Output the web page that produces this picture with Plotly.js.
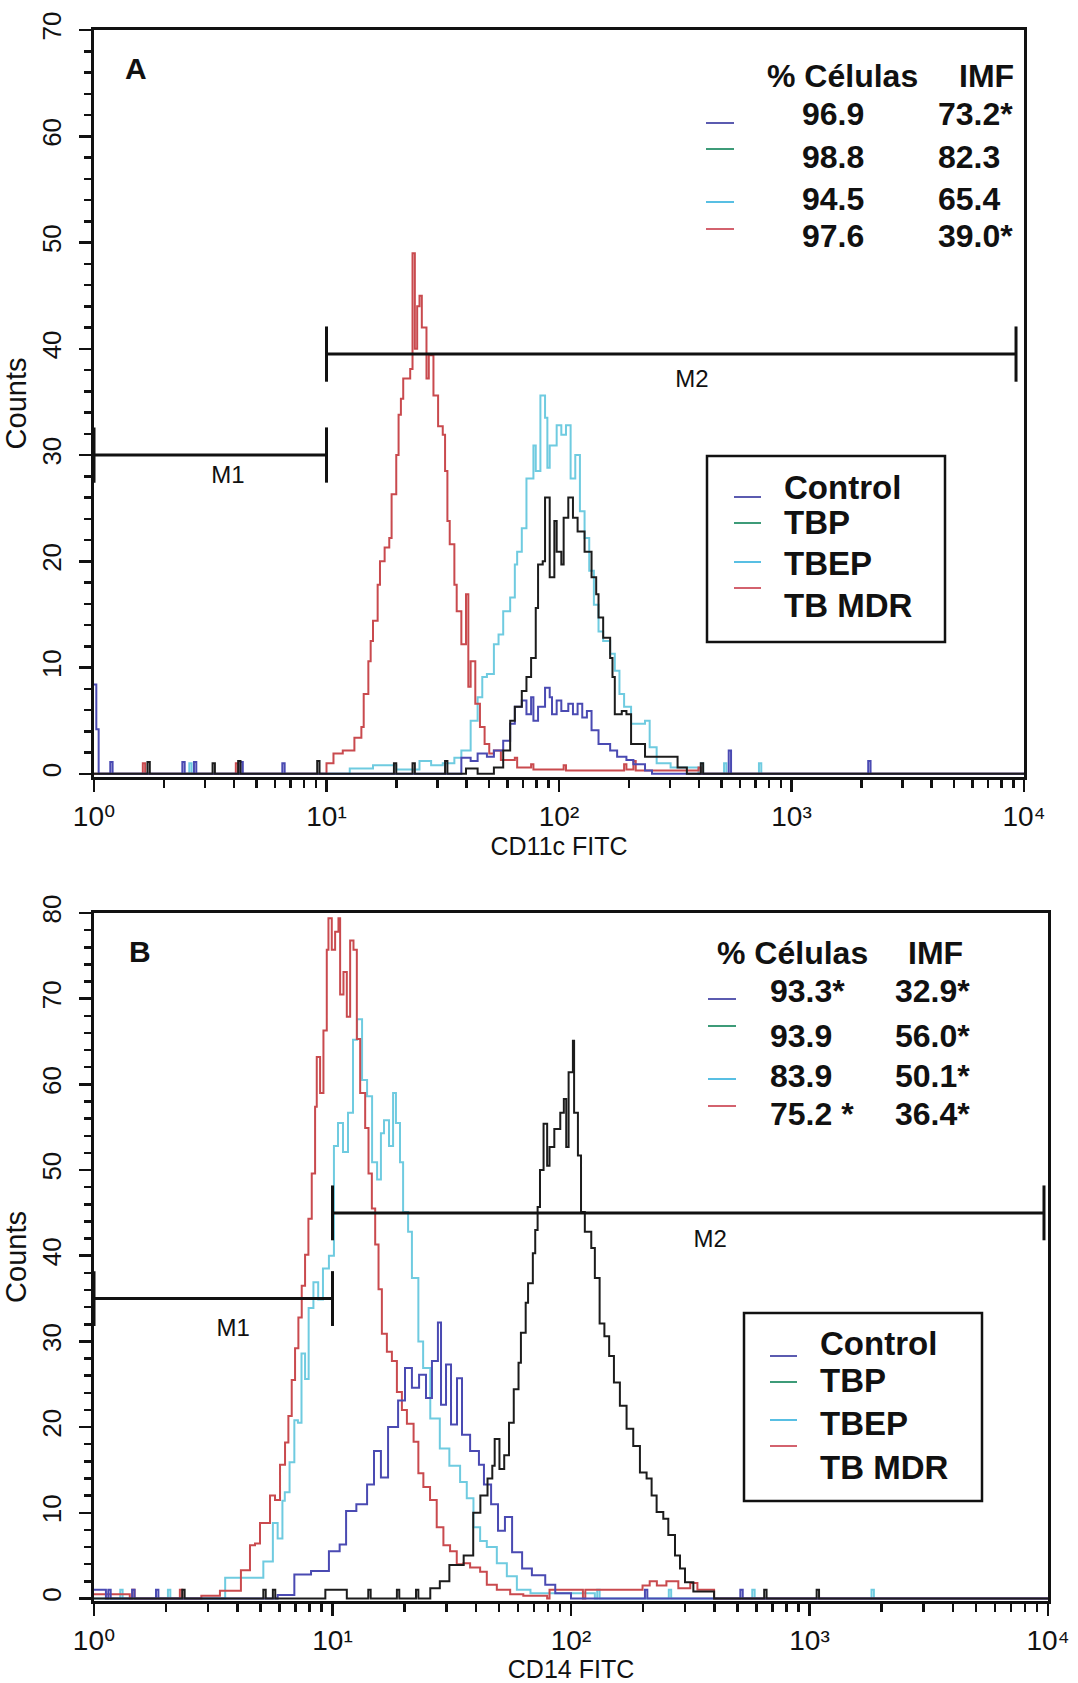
<!DOCTYPE html>
<html>
<head>
<meta charset="utf-8">
<script src="https://cdn.plot.ly/plotly-3.0.1.min.js"></script>
<style>
  html, body { margin: 0; padding: 0; background: #ffffff; }
  #chart { width: 1078px; height: 1683px; }
</style>
</head>
<body>
<div id="chart"></div>
<script>
// ---------------- DATA ----------------
const groups = ['Control', 'TBP', 'TBEP', 'TB MDR'];

// Panel A (CD11c FITC): x as log10(fluorescence), y as counts
const A_control_log = [0.00, 0.01, 0.02, 0.06, 0.07, 0.08, 0.37, 0.38, 0.39, 0.42,
  0.43, 0.44, 0.62, 0.63, 0.64, 0.80, 0.81, 0.82, 1.55, 1.58,
  1.62, 1.65, 1.69, 1.72, 1.76, 1.79, 1.81, 1.84, 1.86, 1.88,
  1.89, 1.91, 1.94, 1.96, 1.97, 1.99, 2.01, 2.04, 2.06, 2.08,
  2.10, 2.12, 2.14, 2.17, 2.19, 2.22, 2.25, 2.29, 2.32, 2.37,
  2.40, 2.72, 2.73, 2.74, 3.32, 3.33, 3.34, 4.00];
const A_control_cnt = [8.4, 4.2, 0, 0, 1.1, 0, 0, 1.1, 0, 0,
  1.1, 0, 0, 1.1, 0, 0, 1.0, 0, 0, 1.5,
  1.2, 1.9, 1.6, 2.2, 3.1, 4.7, 6.3, 6.9, 5.6, 7.2,
  5.0, 6.3, 8.1, 7.2, 5.6, 6.9, 5.9, 6.6, 5.6, 6.6,
  5.3, 5.9, 4.1, 2.8, 2.8, 2.2, 1.6, 1.3, 0.9, 0.3,
  0, 0, 2.2, 0, 0, 1.2, 0, 0];

const A_tbp_log = [0.00, 0.22, 0.23, 0.24, 0.50, 0.51, 0.52, 0.61, 0.62, 0.63,
  0.95, 0.96, 0.97, 1.28, 1.29, 1.30, 1.36, 1.37, 1.38, 1.50,
  1.51, 1.52, 1.60, 1.65, 1.72, 1.76, 1.79, 1.81, 1.84, 1.86,
  1.88, 1.90, 1.91, 1.93, 1.94, 1.96, 1.98, 1.99, 2.01, 2.02,
  2.04, 2.06, 2.08, 2.11, 2.14, 2.16, 2.17, 2.19, 2.22, 2.23,
  2.24, 2.27, 2.29, 2.31, 2.37, 2.44, 2.51, 2.55, 2.60, 2.61,
  2.62, 4.00];
const A_tbp_cnt = [0, 0, 1.1, 0, 0, 1.0, 0, 0, 1.2, 0,
  0, 1.2, 0, 0, 1.0, 0, 0, 1.0, 0, 0,
  1.2, 0, 0.5, 0, 0.6, 2.2, 5.0, 6.3, 7.8, 9.1,
  10.9, 15.6, 19.7, 20.0, 26.0, 18.5, 23.8, 20.9, 19.7, 24.1,
  26.0, 24.1, 22.8, 20.9, 18.5, 16.9, 14.7, 12.8, 10.9, 9.1,
  5.6, 5.9, 5.6, 2.8, 1.6, 1.6, 0.6, 0, 0, 1.0,
  0, 0];

const A_tbep_log = [0.00, 0.40, 0.41, 0.42, 1.10, 1.20, 1.30, 1.40, 1.45, 1.50,
  1.55, 1.58, 1.62, 1.65, 1.67, 1.69, 1.72, 1.74, 1.76, 1.79,
  1.81, 1.82, 1.84, 1.86, 1.89, 1.90, 1.92, 1.94, 1.95, 1.96,
  1.99, 2.01, 2.03, 2.05, 2.07, 2.09, 2.11, 2.13, 2.15, 2.17,
  2.19, 2.22, 2.24, 2.26, 2.28, 2.31, 2.34, 2.37, 2.39, 2.42,
  2.48, 2.60, 2.61, 2.62, 2.70, 2.71, 2.72, 2.85, 2.86, 2.87,
  4.00];
const A_tbep_cnt = [0, 0, 1.0, 0, 0.5, 0.8, 0.4, 1.2, 0.8, 1.0,
  1.5, 2.2, 5.0, 7.2, 9.1, 9.4, 12.2, 13.1, 15.3, 16.6,
  19.7, 20.9, 23.1, 27.8, 30.9, 28.5, 35.6, 33.5, 28.8, 30.9,
  32.8, 31.9, 32.8, 27.8, 30.0, 24.7, 22.2, 19.1, 15.9, 13.4,
  12.5, 11.3, 9.7, 7.5, 6.3, 4.7, 4.7, 5.0, 2.5, 1.0,
  0.6, 0, 1.0, 0, 0, 1.0, 0, 0, 1.0, 0,
  0];

const A_mdr_log = [0.00, 0.20, 0.21, 0.22, 0.60, 0.61, 0.62, 0.95, 1.00, 1.03,
  1.07, 1.12, 1.15, 1.16, 1.18, 1.19, 1.20, 1.22, 1.23, 1.25,
  1.27, 1.28, 1.30, 1.31, 1.32, 1.33, 1.36, 1.37, 1.38, 1.39,
  1.40, 1.41, 1.43, 1.44, 1.46, 1.48, 1.50, 1.51, 1.52, 1.53,
  1.55, 1.56, 1.58, 1.60, 1.61, 1.62, 1.64, 1.66, 1.68, 1.70,
  1.72, 1.75, 1.81, 1.82, 1.88, 1.89, 2.02, 2.03, 2.28, 2.29,
  2.32, 2.33, 2.60, 2.61, 4.00];
const A_mdr_cnt = [0, 0, 1.0, 0, 0, 1.0, 0, 0, 1.0, 1.9,
  2.2, 3.4, 4.4, 7.5, 10.6, 12.5, 14.4, 17.8, 20.0, 21.3,
  22.2, 26.3, 30.0, 33.8, 35.3, 37.2, 38.1, 49.0, 40.0, 44.0,
  45.0, 42.0, 37.2, 39.4, 35.6, 32.7, 31.9, 28.5, 23.8, 21.6,
  17.8, 15.3, 12.2, 16.9, 8.2, 10.6, 6.6, 4.4, 2.8, 1.9,
  2.2, 1.3, 1.5, 0.6, 0.9, 0.4, 0.8, 0.3, 0.9, 0.4,
  1.2, 0.3, 0.6, 0, 0];

// Panel B (CD14 FITC)
const B_control_log = [0.00, 0.05, 0.06, 0.07, 0.15, 0.16, 0.17, 0.25, 0.26, 0.27,
  0.77, 0.84, 0.91, 0.985, 1.03, 1.057, 1.10, 1.145, 1.174, 1.203,
  1.233, 1.275, 1.304, 1.333, 1.363, 1.392, 1.417, 1.442, 1.455, 1.476,
  1.497, 1.522, 1.543, 1.577, 1.614, 1.635, 1.665, 1.694, 1.723, 1.753,
  1.795, 1.836, 1.892, 1.934, 2.00, 2.30, 2.31, 2.32, 2.70, 2.71,
  2.72, 4.00];
const B_control_cnt = [1.0, 0, 1.0, 0, 0, 1.0, 0, 0, 1.0, 0,
  0.4, 2.8, 3.2, 5.5, 6.3, 10.2, 11.0, 13.3, 17.2, 14.1,
  20.0, 23.1, 26.9, 24.6, 26.1, 23.4, 27.7, 32.2, 22.6, 27.3,
  20.3, 25.7, 19.1, 17.2, 15.6, 13.3, 11.0, 7.9, 9.5, 5.4,
  3.5, 2.7, 1.6, 0.6, 0, 0, 1.0, 0, 0, 1.0,
  0, 0];

const B_tbp_log = [0.00, 0.36, 0.37, 0.38, 0.70, 0.71, 0.72, 0.75, 0.76, 0.96,
  0.97, 1.05, 1.06, 1.15, 1.16, 1.27, 1.28, 1.35, 1.36, 1.41,
  1.45, 1.49, 1.55, 1.59, 1.62, 1.65, 1.67, 1.68, 1.70, 1.72,
  1.74, 1.76, 1.78, 1.79, 1.81, 1.82, 1.84, 1.85, 1.86, 1.87,
  1.885, 1.90, 1.91, 1.93, 1.955, 1.97, 1.98, 1.99, 2.008, 2.013,
  2.029, 2.042, 2.058, 2.085, 2.10, 2.12, 2.14, 2.16, 2.18, 2.205,
  2.233, 2.261, 2.289, 2.317, 2.338, 2.359, 2.387, 2.408, 2.436, 2.457,
  2.478, 2.513, 2.569, 2.60, 2.80, 2.81, 2.82, 3.02, 3.03, 3.04,
  4.00];
const B_tbp_cnt = [0, 0, 1.0, 0, 0, 1.0, 0, 1.0, 0, 0,
  1.0, 1.0, 0, 1.0, 0, 1.0, 0, 1.0, 0, 1.2,
  2.0, 3.9, 5.0, 10.0, 12.0, 14.0, 15.5, 18.6, 15.1, 16.7,
  20.5, 24.4, 27.5, 31.0, 34.5, 36.8, 40.3, 43.0, 45.7, 50.0,
  55.4, 50.5, 52.7, 54.8, 56.7, 58.3, 52.7, 61.4, 65.1, 56.7,
  51.7, 45.1, 42.8, 40.9, 37.4, 32.1, 30.6, 28.3, 25.2, 22.5,
  19.8, 17.8, 14.7, 14.0, 12.0, 10.1, 9.3, 7.4, 5.0, 3.5,
  1.9, 0.8, 0.8, 0, 0, 1.0, 0, 0, 1.0, 0,
  0];

const B_tbep_log = [0.00, 0.10, 0.11, 0.12, 0.30, 0.31, 0.32, 0.48, 0.55, 0.63,
  0.71, 0.75, 0.77, 0.79, 0.80, 0.82, 0.84, 0.855, 0.87, 0.885,
  0.90, 0.92, 0.94, 0.96, 0.985, 1.006, 1.023, 1.044, 1.065, 1.086,
  1.103, 1.124, 1.145, 1.166, 1.187, 1.203, 1.216, 1.237, 1.254, 1.266,
  1.283, 1.296, 1.317, 1.333, 1.36, 1.38, 1.41, 1.45, 1.49, 1.535,
  1.563, 1.591, 1.619, 1.647, 1.689, 1.731, 1.773, 1.83, 2.10, 2.11,
  2.12, 2.40, 2.41, 2.42, 2.75, 2.76, 2.77, 3.25, 3.26, 3.27,
  4.00];
const B_tbep_cnt = [0, 0, 1.0, 0, 0, 1.0, 0, 0, 2.4, 2.4,
  4.3, 8.8, 7.0, 11.4, 12.4, 15.9, 20.8, 20.5, 28.6, 25.6,
  33.9, 36.9, 34.9, 38.5, 40.0, 52.8, 55.5, 52.1, 56.7, 65.2,
  67.6, 60.5, 58.6, 50.9, 48.9, 54.3, 55.8, 52.8, 59.0, 55.5,
  50.9, 45.1, 42.8, 37.4, 30.0, 26.9, 21.0, 17.5, 15.5, 13.6,
  11.7, 8.3, 6.7, 6.0, 4.1, 2.6, 1.0, 0.6, 0, 1.0,
  0, 0, 1.0, 0, 0, 1.0, 0, 0, 1.0, 0,
  0];

const B_mdr_log = [0.00, 0.15, 0.16, 0.17, 0.35, 0.36, 0.37, 0.45, 0.528, 0.616,
  0.654, 0.675, 0.696, 0.738, 0.759, 0.78, 0.801, 0.815, 0.829, 0.843,
  0.857, 0.871, 0.885, 0.899, 0.913, 0.927, 0.934, 0.948, 0.962, 0.976,
  0.983, 0.997, 1.011, 1.025, 1.032, 1.046, 1.060, 1.074, 1.088, 1.102,
  1.116, 1.137, 1.151, 1.165, 1.179, 1.193, 1.207, 1.228, 1.249, 1.270,
  1.291, 1.312, 1.340, 1.360, 1.381, 1.409, 1.437, 1.465, 1.493, 1.521,
  1.549, 1.577, 1.619, 1.647, 1.689, 1.745, 1.80, 1.90, 1.91, 2.05,
  2.06, 2.30, 2.33, 2.36, 2.40, 2.45, 2.50, 2.53, 2.60, 4.00];
const B_mdr_cnt = [0.5, 0, 1.0, 0, 0, 1.0, 0, 0.3, 0.9, 3.3,
  6.2, 6.4, 8.8, 12.0, 11.5, 15.6, 18.2, 21.3, 25.5, 29.2,
  32.8, 36.5, 40.1, 44.3, 49.6, 57.4, 63.2, 59.0, 66.3, 75.7,
  79.4, 75.7, 77.8, 79.4, 70.5, 73.1, 67.9, 76.8, 75.7, 65.3,
  59.0, 54.9, 49.6, 45.5, 41.3, 36.1, 30.9, 28.8, 27.7, 24.1,
  22.0, 20.4, 18.3, 14.6, 13.0, 11.5, 8.3, 6.2, 5.5, 4.0,
  4.1, 3.6, 3.1, 1.6, 1.0, 0.5, 0.3, 0, 1.0, 0,
  1.0, 1.5, 2.0, 1.5, 2.0, 1.2, 1.8, 1.0, 0, 0];

// Marker gates (M1, M2)
const gateNames = ['M1', 'M2'];
const A_gate_from = [1, 10];
const A_gate_to = [10, 9240];
const A_gate_level = [30, 39.5];
const B_gate_from = [1, 10];
const B_gate_to = [10, 9620];
const B_gate_level = [35, 45];

// Statistics table
const A_pct = ['96.9', '98.8', '94.5', '97.6'];
const A_imf = ['73.2*', '82.3', '65.4', '39.0*'];
const B_pct = ['93.3*', '93.9', '83.9', '75.2 *'];
const B_imf = ['32.9*', '56.0*', '50.1*', '36.4*'];

// Axis ticks
const decadeVals = [1, 10, 100, 1000, 10000];
const decadeText = ['10\u2070', '10\u00B9', '10\u00B2', '10\u00B3', '10\u2074'];
const minorVals = [2, 3, 4, 5, 6, 7, 8, 9, 20, 30, 40, 50, 60, 70, 80, 90,
  200, 300, 400, 500, 600, 700, 800, 900, 2000, 3000, 4000, 5000, 6000, 7000, 8000, 9000];

// ---------------- STYLE ----------------
const W = 1078, H = 1683;
const px = v => v / W;
const py = v => 1 - v / H;
const SANS = '"Liberation Sans", Arial, "DejaVu Sans", sans-serif';
const INK = '#111111';
const traceColors = ['#4a4ab2', '#1c1c1c', '#6fcbe0', '#c94a4e'];
const swatchColors = ['#5b5bb0', '#3d9b78', '#58bfe3', '#d3626e'];
const drawOrder = [2, 3, 0, 1]; // TBEP, TB MDR, Control, TBP on top

function histTraces(logs, cnts, xa, ya) {
  return drawOrder.map(i => ({
    type: 'scatter', mode: 'lines', name: groups[i],
    x: logs[i].map(v => Math.pow(10, v)), y: cnts[i],
    xaxis: xa, yaxis: ya,
    line: { color: traceColors[i], width: 2, shape: 'hv' },
    showlegend: false, hoverinfo: 'skip'
  }));
}

function gateTrace(from, to, level, half, xa, ya) {
  const x = [], y = [];
  for (let i = 0; i < from.length; i++) {
    x.push(from[i], to[i], null, from[i], from[i], null, to[i], to[i], null);
    y.push(level[i], level[i], null, level[i] - half, level[i] + half, null, level[i] - half, level[i] + half, null);
  }
  return { type: 'scatter', mode: 'lines', x, y, xaxis: xa, yaxis: ya,
    line: { color: INK, width: 3 }, showlegend: false, hoverinfo: 'skip' };
}

function gateLabels(lx, ly, xa, ya) {
  return { type: 'scatter', mode: 'text', x: lx, y: ly, text: gateNames, xaxis: xa, yaxis: ya,
    textposition: 'middle center', textfont: { family: SANS, size: 24, color: INK },
    showlegend: false, hoverinfo: 'skip' };
}

const data = [
  ...histTraces([A_control_log, A_tbp_log, A_tbep_log, A_mdr_log],
                [A_control_cnt, A_tbp_cnt, A_tbep_cnt, A_mdr_cnt], 'x', 'y'),
  ...histTraces([B_control_log, B_tbp_log, B_tbep_log, B_mdr_log],
                [B_control_cnt, B_tbp_cnt, B_tbep_cnt, B_mdr_cnt], 'x2', 'y2'),
  gateTrace(A_gate_from, A_gate_to, A_gate_level, 2.6, 'x', 'y'),
  gateTrace(B_gate_from, B_gate_to, B_gate_level, 3.2, 'x2', 'y2'),
  gateLabels([3.77, 373], [27.9, 37.0], 'x', 'y'),
  gateLabels([3.83, 383], [31.3, 41.7], 'x2', 'y2')
];

function xAxis(domain, anchor, title) {
  return {
    type: 'log', domain, anchor, range: [0, 4],
    showline: true, linewidth: 3, linecolor: INK, mirror: true,
    showgrid: false, zeroline: false,
    ticks: 'outside', ticklen: 12, tickwidth: 2.5, tickcolor: INK,
    tickmode: 'array', tickvals: decadeVals, ticktext: decadeText,
    tickfont: { family: SANS, size: 28, color: INK },
    minor: { tickmode: 'array', tickvals: minorVals, ticks: 'outside', ticklen: 8,
             tickwidth: 2.5, tickcolor: INK, showgrid: false },
    title: { text: title, font: { family: SANS, size: 25, color: INK }, standoff: 4 }
  };
}
function yAxis(domain, anchor, top) {
  return {
    domain, anchor, range: [-0.3, top],
    showline: true, linewidth: 3, linecolor: INK, mirror: true,
    showgrid: false, zeroline: false,
    ticks: 'outside', ticklen: 12, tickwidth: 2.5, tickcolor: INK,
    tick0: 0, dtick: 10, tickangle: -90,
    tickfont: { family: SANS, size: 26, color: INK },
    ticklabelstandoff: 8,
    minor: { dtick: 2, tick0: 0, ticks: 'outside', ticklen: 7, tickwidth: 2.5, tickcolor: INK, showgrid: false },
    title: { text: 'Counts', font: { family: SANS, size: 29, color: INK }, standoff: 4 }
  };
}

const annotations = [];
const shapes = [];
function txt(x, y, text, size, anchor, bold) {
  annotations.push({ xref: 'paper', yref: 'paper', x: px(x), y: py(y), text: text,
    showarrow: false, xanchor: anchor, yanchor: 'middle',
    font: { family: SANS, size, color: INK, weight: bold ? 700 : 400 } });
}
function seg(x0, x1, y, color, width) {
  shapes.push({ type: 'line', xref: 'paper', yref: 'paper', x0: px(x0), x1: px(x1), y0: py(y), y1: py(y),
    line: { color, width } });
}
function box(x0, x1, y0, y1) {
  shapes.push({ type: 'rect', xref: 'paper', yref: 'paper', x0: px(x0), x1: px(x1), y0: py(y1), y1: py(y0),
    line: { color: INK, width: 2.5 }, fillcolor: 'rgba(0,0,0,0)' });
}

function panelDecor(cfg, pct, imf) {
  txt(cfg.letter[0], cfg.letter[1], cfg.letterText, 30, 'center', true);
  txt(cfg.hdrLeft, cfg.hdrY, '% Células', 32, 'left', true);
  txt(cfg.imfHdr, cfg.hdrY, 'IMF', 32, 'center', true);
  for (let i = 0; i < 4; i++) {
    txt(cfg.col1, cfg.rowsY[i], pct[i], 32, cfg.col1Anchor, true);
    txt(cfg.col2, cfg.rowsY[i], imf[i], 32, 'left', true);
    seg(cfg.swX[0], cfg.swX[1], cfg.swY[i], swatchColors[i], 2);
    txt(cfg.legTextX, cfg.legY[i], groups[i], 33, 'left', true);
    seg(cfg.legSwX[0], cfg.legSwX[1], cfg.legSwY[i], swatchColors[i], 2);
  }
  box(cfg.legBox[0], cfg.legBox[1], cfg.legBox[2], cfg.legBox[3]);
}

panelDecor({ letter: [136, 68], letterText: 'A', hdrLeft: 765, imfHdr: 986, hdrY: 76,
  rowsY: [114, 157, 199, 236], col1: 833, col1Anchor: 'center', col2: 936,
  swX: [706, 734], swY: [123, 149, 202, 229],
  legBox: [707, 945, 456, 642], legTextX: 782, legY: [487, 522, 563, 605],
  legSwX: [734, 761], legSwY: [497, 523, 562, 588] }, A_pct, A_imf);

panelDecor({ letter: [140, 951], letterText: 'B', hdrLeft: 715, imfHdr: 935, hdrY: 953,
  rowsY: [991, 1036, 1076, 1114], col1: 768, col1Anchor: 'left', col2: 893,
  swX: [708, 736], swY: [999, 1026, 1079, 1106],
  legBox: [744, 982, 1313, 1501], legTextX: 818, legY: [1343, 1380, 1423, 1467],
  legSwX: [770, 797], legSwY: [1356, 1382, 1420, 1446] }, B_pct, B_imf);

const layout = {
  width: W, height: H,
  margin: { l: 0, r: 0, t: 0, b: 0 },
  paper_bgcolor: '#ffffff', plot_bgcolor: '#ffffff',
  showlegend: false,
  xaxis: xAxis([px(94), px(1024)], 'y', 'CD11c FITC'),
  yaxis: yAxis([py(777), py(30)], 'x', 70),
  xaxis2: xAxis([px(94), px(1048)], 'y2', 'CD14 FITC'),
  yaxis2: yAxis([py(1601), py(913)], 'x2', 80),
  annotations, shapes
};

Plotly.newPlot('chart', data, layout, { staticPlot: true, displayModeBar: false });
</script>
</body>
</html>
